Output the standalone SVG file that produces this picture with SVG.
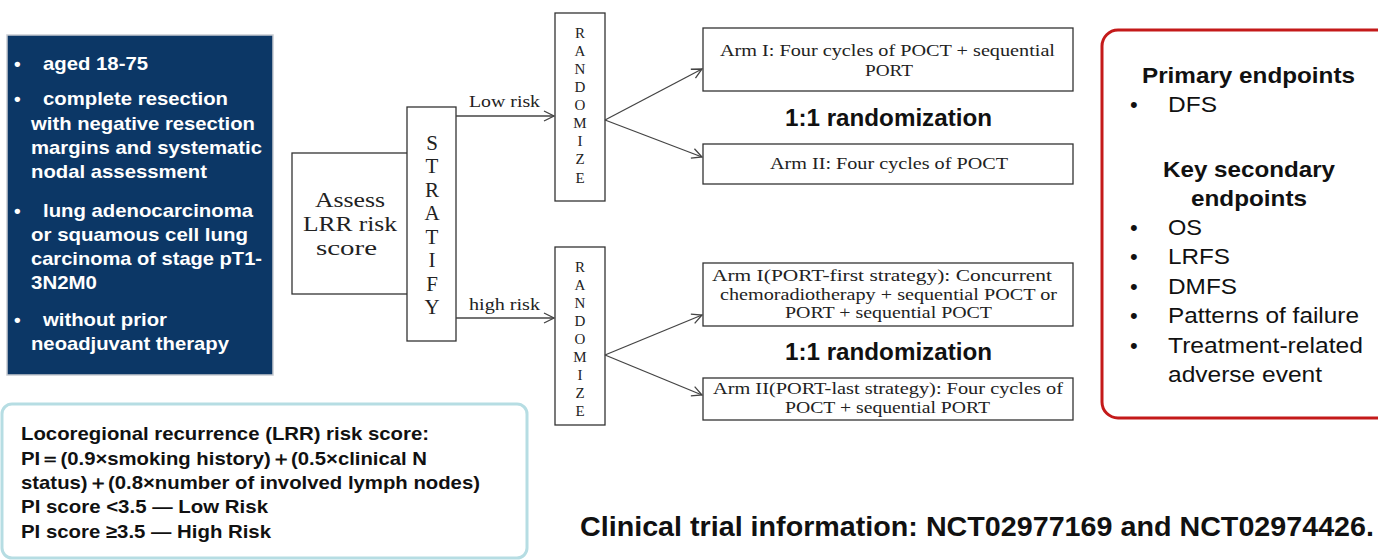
<svg xmlns="http://www.w3.org/2000/svg" width="1378" height="560" viewBox="0 0 1378 560">
<style>
.box{fill:#fff;stroke:#333;stroke-width:1.3}
.serif{font-family:"Liberation Serif","DejaVu Serif",serif;fill:#222}
.inc{font-family:"Liberation Sans",Arial,sans-serif;font-weight:bold;font-size:19px;fill:#fff}
.sans{font-family:"Liberation Sans",Arial,sans-serif;fill:#111}
.conn{stroke:#444;stroke-width:1.3;fill:none}
</style>
<defs>
<marker id="arr" viewBox="0 0 12 12" refX="11" refY="6" markerWidth="12" markerHeight="12" markerUnits="userSpaceOnUse" orient="auto">
<polyline points="1,1 11,6 1,11" fill="none" stroke="#444" stroke-width="1.3"/>
</marker>
</defs>
<rect width="1378" height="560" fill="#fff"/>

<g id="inclusion">
<rect x="7" y="35" width="266" height="340" fill="#0c3766" stroke="#c8ccd2" stroke-width="1.5"/>
<text class="inc" x="14" y="70">•</text><text class="inc" x="43" y="70" textLength="105" lengthAdjust="spacingAndGlyphs">aged 18-75</text>
<text class="inc" x="14" y="105">•</text><text class="inc" x="43" y="105" textLength="185" lengthAdjust="spacingAndGlyphs">complete resection</text>
<text class="inc" x="31" y="130" textLength="224" lengthAdjust="spacingAndGlyphs">with negative resection</text>
<text class="inc" x="31" y="154" textLength="231" lengthAdjust="spacingAndGlyphs">margins and systematic</text>
<text class="inc" x="31" y="178" textLength="176" lengthAdjust="spacingAndGlyphs">nodal assessment</text>
<text class="inc" x="14" y="217">•</text><text class="inc" x="43" y="217" textLength="210" lengthAdjust="spacingAndGlyphs">lung adenocarcinoma</text>
<text class="inc" x="31" y="241" textLength="217" lengthAdjust="spacingAndGlyphs">or squamous cell lung</text>
<text class="inc" x="31" y="265" textLength="231" lengthAdjust="spacingAndGlyphs">carcinoma of stage pT1-</text>
<text class="inc" x="31" y="289" textLength="66" lengthAdjust="spacingAndGlyphs">3N2M0</text>
<text class="inc" x="14" y="326">•</text><text class="inc" x="43" y="326" textLength="124" lengthAdjust="spacingAndGlyphs">without prior</text>
<text class="inc" x="31" y="350" textLength="198" lengthAdjust="spacingAndGlyphs">neoadjuvant therapy</text>
</g>

<g id="assess">
<rect class="box" x="292" y="153" width="116" height="141"/>
<text class="serif" font-size="22" x="315" y="207" textLength="70" lengthAdjust="spacingAndGlyphs">Assess</text>
<text class="serif" font-size="22" x="303" y="231" textLength="94" lengthAdjust="spacingAndGlyphs">LRR risk</text>
<text class="serif" font-size="22" x="316" y="255" textLength="61" lengthAdjust="spacingAndGlyphs">score</text>
</g>

<g id="stratify">
<rect class="box" x="407" y="107" width="49" height="234"/>
<g class="serif" font-size="21" text-anchor="middle">
<text x="432" y="150">S</text><text x="432" y="173">T</text><text x="432" y="197">R</text><text x="432" y="220">A</text>
<text x="432" y="244">T</text><text x="432" y="267">I</text><text x="432" y="291">F</text><text x="432" y="314">Y</text>
</g>
</g>

<g id="randomize1">
<rect class="box" x="555" y="13" width="50" height="188"/>
<g class="serif" font-size="15" text-anchor="middle">
<text x="580" y="38">R</text><text x="580" y="56">A</text><text x="580" y="74">N</text><text x="580" y="92">D</text><text x="580" y="110">O</text>
<text x="580" y="128">M</text><text x="580" y="146">I</text><text x="580" y="164">Z</text><text x="580" y="183">E</text>
</g>
</g>

<g id="randomize2">
<rect class="box" x="555" y="247" width="50" height="178"/>
<g class="serif" font-size="15" text-anchor="middle">
<text x="580" y="272">R</text><text x="580" y="290">A</text><text x="580" y="308">N</text><text x="580" y="326">D</text><text x="580" y="344">O</text>
<text x="580" y="362">M</text><text x="580" y="380">I</text><text x="580" y="398">Z</text><text x="580" y="416">E</text>
</g>
</g>

<g id="arm1-low">
<rect class="box" x="703" y="28" width="370" height="63"/>
<text class="serif" font-size="17" x="720" y="56" textLength="335" lengthAdjust="spacingAndGlyphs">Arm I: Four cycles of POCT + sequential</text>
<text class="serif" font-size="17" x="865" y="76" textLength="48" lengthAdjust="spacingAndGlyphs">PORT</text>
</g>
<g id="arm2-low">
<rect class="box" x="703" y="144" width="370" height="40"/>
<text class="serif" font-size="17" x="770" y="169" textLength="238" lengthAdjust="spacingAndGlyphs">Arm II: Four cycles of POCT</text>
</g>
<text class="sans" font-size="23" font-weight="bold" x="785" y="126" textLength="207" lengthAdjust="spacingAndGlyphs">1:1 randomization</text>

<g id="arm1-high">
<rect class="box" x="703" y="263" width="370" height="63"/>
<text class="serif" font-size="17" x="712" y="281" textLength="340" lengthAdjust="spacingAndGlyphs">Arm I(PORT-first strategy): Concurrent</text>
<text class="serif" font-size="17" x="720" y="300" textLength="337" lengthAdjust="spacingAndGlyphs">chemoradiotherapy + sequential POCT or</text>
<text class="serif" font-size="17" x="785" y="318" textLength="207" lengthAdjust="spacingAndGlyphs">PORT + sequential POCT</text>
</g>
<g id="arm2-high">
<rect class="box" x="703" y="378" width="370" height="42"/>
<text class="serif" font-size="17" x="713" y="394" textLength="350" lengthAdjust="spacingAndGlyphs">Arm II(PORT-last strategy): Four cycles of</text>
<text class="serif" font-size="17" x="785" y="413" textLength="205" lengthAdjust="spacingAndGlyphs">POCT + sequential PORT</text>
</g>
<text class="sans" font-size="23" font-weight="bold" x="785" y="360" textLength="207" lengthAdjust="spacingAndGlyphs">1:1 randomization</text>

<g id="connectors">
<line class="conn" x1="456" y1="116" x2="554" y2="116" marker-end="url(#arr)"/>
<line class="conn" x1="456" y1="318" x2="554" y2="318" marker-end="url(#arr)"/>
<line class="conn" x1="605" y1="120" x2="702" y2="69" marker-end="url(#arr)"/>
<line class="conn" x1="605" y1="120" x2="702" y2="157" marker-end="url(#arr)"/>
<line class="conn" x1="605" y1="355" x2="702" y2="315" marker-end="url(#arr)"/>
<line class="conn" x1="605" y1="355" x2="702" y2="395" marker-end="url(#arr)"/>
<text class="serif" font-size="16" x="469" y="107" textLength="71" lengthAdjust="spacingAndGlyphs">Low risk</text>
<text class="serif" font-size="16" x="469" y="310" textLength="71" lengthAdjust="spacingAndGlyphs">high risk</text>
</g>

<g id="endpoints">
<rect x="1102" y="30" width="300" height="388" rx="16" fill="#fff" stroke="#c41a1a" stroke-width="3"/>
<g class="sans" font-size="22">
<text font-weight="bold" x="1142" y="83" textLength="213" lengthAdjust="spacingAndGlyphs">Primary endpoints</text>
<text x="1130" y="112">•</text><text x="1168" y="112" textLength="49" lengthAdjust="spacingAndGlyphs">DFS</text>
<text font-weight="bold" x="1163" y="177" textLength="172" lengthAdjust="spacingAndGlyphs">Key secondary</text>
<text font-weight="bold" x="1191" y="206" textLength="116" lengthAdjust="spacingAndGlyphs">endpoints</text>
<text x="1130" y="235">•</text><text x="1168" y="235" textLength="34" lengthAdjust="spacingAndGlyphs">OS</text>
<text x="1130" y="264">•</text><text x="1168" y="264" textLength="62" lengthAdjust="spacingAndGlyphs">LRFS</text>
<text x="1130" y="294">•</text><text x="1168" y="294" textLength="69" lengthAdjust="spacingAndGlyphs">DMFS</text>
<text x="1130" y="323">•</text><text x="1168" y="323" textLength="191" lengthAdjust="spacingAndGlyphs">Patterns of failure</text>
<text x="1130" y="353">•</text><text x="1168" y="353" textLength="195" lengthAdjust="spacingAndGlyphs">Treatment-related</text>
<text x="1168" y="382" textLength="154" lengthAdjust="spacingAndGlyphs">adverse event</text>
</g>
</g>

<g id="risk-score">
<rect x="2" y="404" width="525" height="154" rx="10" fill="#fff" stroke="#b6dde3" stroke-width="3"/>
<g class="sans" font-size="19" font-weight="bold">
<text x="21" y="440" textLength="408" lengthAdjust="spacingAndGlyphs">Locoregional recurrence (LRR) risk score:</text>
<text x="21" y="465" textLength="406" lengthAdjust="spacingAndGlyphs">PI＝(0.9×smoking history)＋(0.5×clinical N</text>
<text x="21" y="489" textLength="459" lengthAdjust="spacingAndGlyphs">status)＋(0.8×number of involved lymph nodes)</text>
<text x="21" y="513" textLength="247" lengthAdjust="spacingAndGlyphs">PI score &lt;3.5 — Low Risk</text>
<text x="21" y="538" textLength="250" lengthAdjust="spacingAndGlyphs">PI score ≥3.5 — High Risk</text>
</g>
</g>

<text class="sans" font-size="28" font-weight="bold" x="580" y="536" textLength="794" lengthAdjust="spacingAndGlyphs">Clinical trial information: NCT02977169 and NCT02974426.</text>
</svg>
